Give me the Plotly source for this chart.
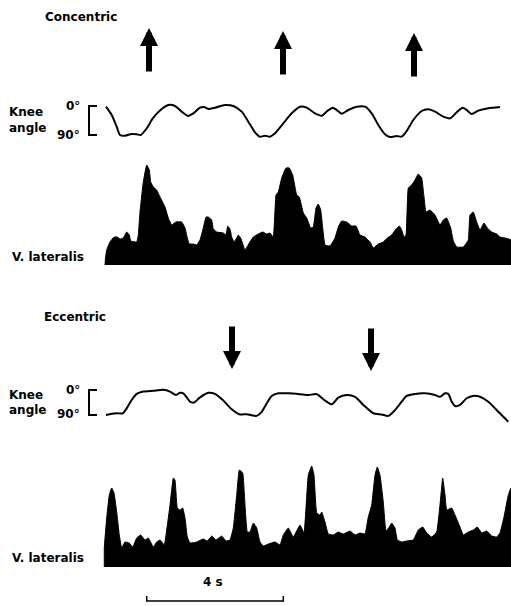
import plotly.graph_objects as go

# time index: samples (FS samples per second)
FS = 34.15

# ---------------- Concentric ----------------
conc_knee_t = [1, 6.7, 11.7, 15, 20, 26.7, 31.7, 35.7, 41.7, 48.3, 56.7, 63.3, 70, 76.7, 83.3,
               88.3, 95, 99, 103.3, 110, 120, 128.3, 136.7, 143.3, 150, 155, 160, 165, 170, 178.3,
               186.7, 195, 201.7, 210, 216.7, 222.3, 227.7, 231.7, 236.7, 243.3, 251.7, 260, 266.7,
               273.3, 280, 285, 291.7, 296.7, 301.7, 308.3, 316.7, 323.3, 330, 338.3, 345, 351.7,
               357.7, 361.7, 366.7, 373.3, 383.3, 395]
conc_knee_deg = [5, 30, 65, 90, 92, 87, 88, 90, 70, 38, 12, 0, 3, 20, 33, 25, 8, 6, 12, 8,
                 0, 3, 20, 50, 82, 95, 92, 95, 85, 55, 25, 5, 8, 25, 32, 18, 8, 15, 26, 15,
                 5, 5, 25, 60, 88, 96, 93, 95, 78, 45, 18, 13, 20, 35, 40, 22, 8, 15, 27, 17, 10, 6]

conc_emg_t = [0, 0.5, 1.7, 5, 9, 12.3, 15, 18.3, 21.7, 24.3, 25.7, 31.7, 33.3, 35, 38.3, 41.7, 44.3,
              45.7, 48.3, 51.7, 55, 60, 63.3, 66.7, 71, 76.7, 80, 82.3, 84.3, 88.3, 91.7, 95, 98.3,
              101, 103.3, 106.7, 108.3, 111.7, 118.3, 121, 122.7, 125, 126.7, 129, 131.7, 133.3,
              135.7, 140, 144.3, 148.3, 153.3, 157.7, 161.7, 165, 168.3, 171, 173.3, 176.7, 181,
              184.3, 187.7, 191.7, 194.3, 198.3, 201.7, 205.7, 208.3, 211, 213.3, 215.7, 217.7, 220,
              225, 230, 233.3, 236.7, 241.7, 246.7, 251, 255, 260, 265, 268.3, 273.3, 278.3, 282.3,
              286.7, 291, 294.3, 296.7, 299, 301, 303.3, 306.7, 310, 313.3, 316.7, 319, 321, 325,
              330, 335, 338.3, 341.7, 345.7, 348.3, 351.7, 358.3, 363.3, 365, 368.3, 371.7, 375,
              379, 382.3, 386.7, 391.7, 395, 400, 406, 406]
conc_emg_amp = [0, 7, 15, 23, 28, 28, 26, 27, 33, 30, 24, 23, 30, 53, 83, 100, 95, 83, 78, 75, 68,
                58, 47, 40, 43, 43, 37, 27, 21, 21, 20, 25, 37, 48, 48, 45, 36, 33, 32, 30, 39, 36,
                28, 23, 27, 30, 27, 15, 22, 28, 31, 33, 31, 32, 28, 70, 73, 87, 97, 97, 90, 70, 68,
                52, 47, 37, 38, 57, 61, 55, 37, 20, 19, 27, 38, 44, 43, 39, 39, 30, 28, 23, 17, 21,
                23, 27, 30, 36, 39, 35, 28, 30, 77, 80, 85, 91, 87, 68, 53, 55, 50, 40, 45, 47, 37,
                24, 18, 18, 25, 50, 53, 43, 35, 42, 37, 33, 31, 28, 27, 25, 0]

conc_arrow_t = [44, 178, 309]

# ---------------- Eccentric ----------------
ecc_knee_t = [1, 6.7, 11.7, 17.7, 21.7, 26.7, 31.7, 38.3, 48.3, 58.3, 65, 71, 75, 78.3, 81.7, 85,
              89, 95, 103.3, 110, 118.3, 126.7, 135, 141.7, 146.7, 151.7, 156.7, 161.7, 166.7,
              173.3, 183.3, 195, 203.3, 211.7, 220, 226.7, 233.3, 241.7, 250, 258.3, 268.3, 276.7,
              283.3, 290, 296.7, 301.7, 310, 320, 330, 335, 340, 343.3, 346.7, 350, 355, 361.7,
              368.3, 375, 383.3, 391.7, 398.3, 403.3]
ecc_knee_deg = [90, 86, 84, 84, 67, 38, 17, 9, 6, 3, 9, 21, 13, 15, 29, 44, 47, 29, 13, 17, 40,
                70, 88, 87, 91, 93, 79, 50, 24, 15, 15, 18, 21, 18, 40, 53, 30, 21, 27, 55, 84, 88,
                93, 73, 44, 24, 17, 15, 21, 27, 15, 17, 44, 59, 55, 32, 24, 27, 44, 73, 96, 113]

ecc_emg_t = [-0.7, -0.7, 1.7, 4.3, 6.7, 9, 11.7, 14.3, 16.7, 20, 24.3, 27.7, 31.7, 35.7, 40, 43.3,
             48.3, 51.7, 55, 59.3, 61.7, 65, 68.3, 70, 72.3, 75, 77.7, 80, 82.3, 85, 91.7, 98.3,
             102.3, 106.7, 111, 116.7, 121, 125, 128.3, 131.7, 134.3, 137.7, 140, 142.3, 145,
             148.3, 151.7, 155, 158.3, 163.3, 170, 175, 178.3, 183.3, 188.3, 195, 199, 201, 203.3,
             206.7, 209, 211.7, 215, 216.7, 220, 223.3, 228.3, 233.3, 238.3, 245, 250, 255, 260,
             263.3, 266.7, 270, 272.3, 275, 278.3, 281, 284.3, 286.7, 290, 292.3, 296.7, 301.7,
             308.3, 313.3, 317.7, 321.7, 326.7, 331.7, 335, 337.7, 340, 341.7, 346.7, 350, 355,
             358.3, 363.3, 368.3, 372.3, 376.7, 381.7, 386.7, 391.7, 395, 399, 403.3, 406, 406]
ecc_emg_amp = [0, 19, 49, 72, 79, 74, 55, 32, 19, 25, 24, 20, 29, 32, 27, 29, 20, 25, 27, 22, 37,
               62, 89, 87, 59, 57, 59, 49, 30, 24, 25, 28, 26, 31, 27, 31, 26, 27, 39, 72, 97, 94,
               62, 35, 35, 44, 39, 25, 21, 23, 25, 22, 32, 39, 30, 42, 34, 59, 92, 101, 92, 54, 52,
               55, 45, 33, 32, 35, 33, 36, 32, 34, 33, 50, 62, 92, 100, 92, 65, 36, 40, 44, 39, 27,
               25, 26, 27, 37, 40, 34, 30, 35, 62, 89, 72, 57, 59, 52, 40, 32, 35, 37, 40, 34, 36,
               31, 30, 34, 50, 72, 79, 0]

ecc_arrow_t = [127, 266]

SCALE_BAR_S = 4
SCALE_BAR_START = 41.7

# ---------------- layout helpers ----------------
W, H = 511, 606
def py(p):
    return 1 - p / H
def pxp(p):
    return p / W

FONT = dict(family="DejaVu Sans", size=12, color="black", weight="bold")

fig = go.Figure()
fig.add_trace(go.Scatter(x=conc_knee_t, y=conc_knee_deg, mode="lines",
                         line=dict(color="black", width=2, shape="spline", smoothing=0.7),
                         xaxis="x", yaxis="y"))
fig.add_trace(go.Scatter(x=conc_emg_t, y=conc_emg_amp, mode="lines", fill="tozeroy",
                         fillcolor="black", line=dict(color="black", width=1, shape="spline", smoothing=0.3),
                         xaxis="x", yaxis="y2"))
fig.add_trace(go.Scatter(x=ecc_knee_t, y=ecc_knee_deg, mode="lines",
                         line=dict(color="black", width=2, shape="spline", smoothing=0.7),
                         xaxis="x", yaxis="y3"))
fig.add_trace(go.Scatter(x=ecc_emg_t, y=ecc_emg_amp, mode="lines", fill="tozeroy",
                         fillcolor="black", line=dict(color="black", width=1, shape="spline", smoothing=0.3),
                         xaxis="x", yaxis="y4"))

hid = dict(visible=False, fixedrange=True)
ck0, ck_deg_px = 105, 3.0      # concentric knee: 0 deg pixel, deg per px
ek0, ek_deg_px = 389, 3.46
fig.update_layout(
    width=W, height=H,
    margin=dict(l=0, r=0, t=0, b=0),
    paper_bgcolor="white", plot_bgcolor="white",
    showlegend=False,
    xaxis=dict(range=[-105, 406], domain=[0, 1], **hid),
    yaxis=dict(domain=[py(145), py(95)], range=[(145 - ck0) * ck_deg_px, (95 - ck0) * ck_deg_px], **hid),
    yaxis2=dict(domain=[py(265), py(150)], range=[0, 115], **hid),
    yaxis3=dict(domain=[py(430), py(375)], range=[(430 - ek0) * ek_deg_px, (375 - ek0) * ek_deg_px], **hid),
    yaxis4=dict(domain=[py(567), py(455)], range=[0, 112], **hid),
)

ann = []
def label(text, x, y, anchor="left", size=12):
    f = dict(FONT)
    f["size"] = size
    ann.append(dict(text=text, x=pxp(x), y=py(y), xref="paper", yref="paper",
                    xanchor=anchor, yanchor="middle", showarrow=False, font=f))

label("Concentric", 43, 17)
label("Knee", 7, 112)
label("angle", 7, 128)
label("0°", 82, 106, anchor="right")
label("90°", 82, 135, anchor="right")
label("V. lateralis", 10, 257)
label("Eccentric", 42, 317)
label("Knee", 7, 395)
label("angle", 7, 410)
label("0°", 82, 390, anchor="right")
label("90°", 82, 414, anchor="right")
label("V. lateralis", 10, 558)
label("4 s", 213, 582, anchor="center")

for t, tip in zip(conc_arrow_t, [28, 31, 33]):
    ann.append(dict(text="", x=t, y=py(tip), xref="x", yref="paper", showarrow=True,
                    ax=0, ay=45, arrowhead=2, arrowsize=0.6, arrowwidth=6, arrowcolor="black"))
for t, tip in zip(ecc_arrow_t, [369, 371]):
    ann.append(dict(text="", x=t, y=py(tip), xref="x", yref="paper", showarrow=True,
                    ax=0, ay=-44, arrowhead=2, arrowsize=0.6, arrowwidth=6, arrowcolor="black"))
fig.update_layout(annotations=ann)

shapes = []
def bracket(top, bot):
    path = (f"M {pxp(97)},{py(top)} L {pxp(89)},{py(top)} "
            f"L {pxp(89)},{py(bot)} L {pxp(97)},{py(bot)}")
    shapes.append(dict(type="path", path=path, xref="paper", yref="paper",
                       line=dict(color="black", width=2)))
bracket(106, 135)
bracket(390, 415)
x0 = SCALE_BAR_START
x1 = SCALE_BAR_START + SCALE_BAR_S * FS
shapes.append(dict(type="path", xref="x", yref="paper",
                   path=f"M {x0},{py(596)} L {x0},{py(601)} L {x1},{py(601)} L {x1},{py(596)}",
                   line=dict(color="black", width=1.5)))
fig.update_layout(shapes=shapes)

fig.write_html("out.html", config={"displayModeBar": False},
               post_script="document.body.style.margin='0';")
